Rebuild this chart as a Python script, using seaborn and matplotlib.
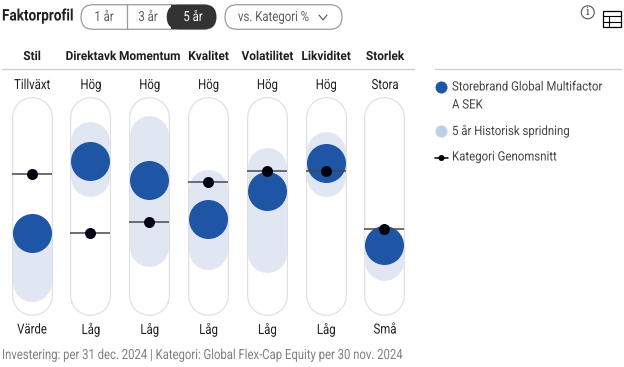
import numpy as np
import pandas as pd
import matplotlib
matplotlib.use('Agg')
import matplotlib.pyplot as plt
import matplotlib.patheffects as pe
from matplotlib.patches import Circle, FancyBboxPatch
from matplotlib.transforms import Affine2D
import seaborn as sns

factors = ['Stil', 'Direktavk', 'Momentum', 'Kvalitet', 'Volatilitet', 'Likviditet', 'Storlek']
top_labels = ['Tillväxt', 'Hög', 'Hög', 'Hög', 'Hög', 'Hög', 'Stora']
bottom_labels = ['Värde', 'Låg', 'Låg', 'Låg', 'Låg', 'Låg', 'Små']
fund = [37.5, 70.8, 62.0, 44.2, 57.0, 70.0, 32.0]
category = [64.6, 37.3, 42.8, 61.1, 66.2, 66.2, 39.4]
range_high = [46.0, 88.9, 91.7, 66.7, 76.9, 84.3, 40.7]
range_low = [6.0, 54.4, 22.2, 20.4, 19.2, 54.2, 15.7]

BLUE = '#1E55A5'
PALE = '#E1E7F2'
LEGEND_PALE = '#BFD0E6'
TRACK = '#E0E0E0'
TEXT = '#1F1F1F'
GREY = '#808080'
SOFT = '#555555'

sns.set_theme(style='white')
plt.rcParams['font.family'] = ['Roboto', 'DejaVu Sans']

W, H = 624, 367
PX = 0.72  # px to pt at dpi 100


class Squeeze(pe.AbstractPathEffect):
    # the original font is a condensed one, none is installed
    def __init__(self, x_px, factor):
        super().__init__()
        self.x_px = x_px
        self.factor = factor

    def draw_path(self, renderer, gc, tpath, affine, rgbFace=None):
        squeeze = Affine2D().translate(-self.x_px, 0).scale(self.factor, 1).translate(self.x_px, 0)
        renderer.draw_path(gc, tpath, affine + squeeze, rgbFace)


fig = plt.figure(figsize=(W / 100, H / 100), dpi=100)
ax = fig.add_axes([2.1 / W, 1 - 314 / H, 411.8 / W, 216 / H])

df = pd.DataFrame({'pos': np.arange(len(factors)), 'fund': fund, 'category': category,
                   'high': range_high, 'low': range_low})
cap = 19.5 / 216 * 100

# tracks, outline is a wider grey line under a white one
ax.vlines(df['pos'], cap, 100 - cap, color=TRACK, lw=41 * PX, capstyle='round', zorder=1, clip_on=False)
ax.vlines(df['pos'], cap, 100 - cap, color='white', lw=38.6 * PX, capstyle='round', zorder=1.1, clip_on=False)
ax.vlines(df['pos'], df['low'] + cap, df['high'] - cap, color=PALE, lw=39 * PX, capstyle='round', zorder=2)

sns.scatterplot(data=df, x='pos', y='fund', ax=ax, s=(39 * PX) ** 2, color=BLUE, linewidth=0, zorder=3)
half = 20 / (411.8 / 7)
ax.hlines(df['category'], df['pos'] - half, df['pos'] + half, color='#44474f', lw=1.1, zorder=3.5)
sns.scatterplot(data=df, x='pos', y='category', ax=ax, s=(11 * PX) ** 2, color='#00000f', linewidth=0, zorder=4)
ax.set_xlim(-0.5, 6.5)
ax.set_ylim(0, 100)
ax.axis('off')

# overlay in pixels for the page furniture
ov = fig.add_axes([0, 0, 1, 1], facecolor='none')
ov.set_xlim(0, W)
ov.set_ylim(H, 0)
ov.axis('off')


def label(x, y, s, size=10, color=TEXT, ha='center', weight='normal', factor=0.82):
    t = ov.text(x, y, s, ha=ha, va='center', fontsize=size, color=color, fontweight=weight)
    t.set_path_effects([Squeeze(x, factor)])
    return t


xs = 32 + 58.83 * df['pos']
for x, name, top, bottom in zip(xs, factors, top_labels, bottom_labels):
    label(x, 56.5, name, size=9, weight='bold', factor=0.95)
    label(x, 85, top)
    label(x, 329.5, bottom)

ov.plot([2, 414], [69, 69], color='#CFCFCF', lw=1)
ov.plot([435, 621], [69, 69], color='#CFCFCF', lw=1)

label(2, 16, 'Faktorprofil', size=11.5, ha='left', weight='bold', factor=0.85)
label(2, 355, 'Investering: per 31 dec. 2024 | Kategori: Global Flex-Cap Equity per 30 nov. 2024',
      color=GREY, ha='left', factor=0.815)


def pill(x0, y0, x1, y1, face, edge):
    r = (y1 - y0) / 2
    ov.add_patch(FancyBboxPatch((x0 + r, y0 + r), x1 - x0 - 2 * r, 0, boxstyle=f'round,pad={r},rounding_size={r}',
                                fc=face, ec=edge, lw=0.9))


pill(81, 4.7, 216, 29.3, 'white', '#9A9A9A')
ov.plot([126.5, 126.5], [4.7, 29.3], color='#9A9A9A', lw=0.9)
# dark part of the selector
ov.add_patch(FancyBboxPatch((179, 17), 25, 0, boxstyle='round,pad=12.3,rounding_size=12.3',
                            fc='#333333', ec='#333333', lw=0))
ov.fill_between([171, 192], 4.7, 29.3, color='#333333', lw=0)
label(104, 17, '1 år', color='#5E5E5E')
label(148, 17, '3 år', color='#5E5E5E')
label(193, 17, '5 år', color='white')
pill(225, 4.7, 342, 29.3, 'white', '#9A9A9A')
label(238, 17, 'vs. Kategori %', color='#5E5E5E', ha='left')
ov.plot([319, 323, 327], [15, 20, 15], color=SOFT, lw=0.8)

# legend
ov.add_patch(Circle((441.5, 87.5), 6, fc=BLUE, ec='none'))
label(452, 87, 'Storebrand Global Multifactor', size=9.3, color='#444444', ha='left', factor=0.885)
label(452, 105, 'A SEK', size=9.3, color='#444444', ha='left', factor=0.885)
ov.add_patch(Circle((441.5, 131.5), 6, fc=LEGEND_PALE, ec='none'))
label(452, 131, '5 år Historisk spridning', size=9.3, color='#444444', ha='left', factor=0.885)
ov.plot([435, 448], [158, 158], color='black', lw=1.1)
ov.add_patch(Circle((441.5, 158), 3, fc='black', ec='none'))
label(452, 157, 'Kategori Genomsnitt', size=9.3, color='#444444', ha='left', factor=0.885)

# icons
ov.add_patch(Circle((587.8, 12.3), 6.5, fc='white', ec=SOFT, lw=0.8))
ov.text(587.8, 12.3, 'i', ha='center', va='center', fontsize=8, color='#444444', family='DejaVu Serif')
ov.add_patch(plt.Rectangle((602.5, 11.3), 18.3, 15.7, fc='white', ec='black', lw=0.9))
for y in (16, 21.5):
    ov.plot([602.5, 620.8], [y, y], color='black', lw=0.8)
ov.plot([608.5, 608.5], [16, 27], color='black', lw=0.8)

fig.savefig('out.png', dpi=100)
